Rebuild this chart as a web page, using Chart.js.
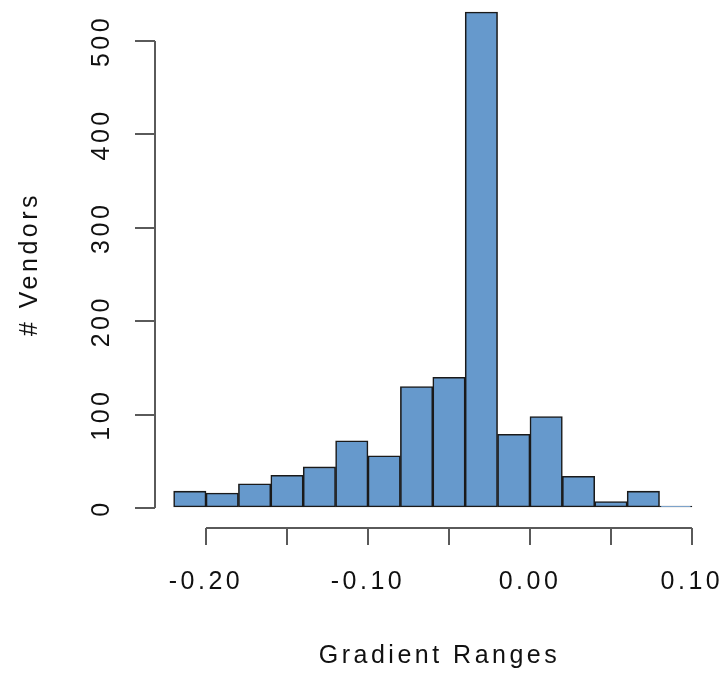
<!DOCTYPE html>
<html>
<head>
<meta charset="utf-8">
<script src="https://cdn.jsdelivr.net/npm/chart.js@4.4.1/dist/chart.umd.min.js"></script>
<style>
  html, body { margin: 0; padding: 0; background: #fff; }
  #wrap { position: relative; width: 724px; height: 674px; }
</style>
</head>
<body>
<div id="wrap"><canvas id="histChart"></canvas></div>
<script>
// histogram bins (centres of 0.02 wide bins) and counts
const binCenters = [-0.21, -0.19, -0.17, -0.15, -0.13, -0.11, -0.09, -0.07,
                    -0.05, -0.03, -0.01, 0.01, 0.03, 0.05, 0.07, 0.09];
const vendorCounts = [18, 16, 26, 35, 44, 72, 56, 130,
                      140, 531, 79, 98, 34, 7, 18, 2];
const xTicks = [-0.20, -0.15, -0.10, -0.05, 0.00, 0.05, 0.10];
const xTickLabels = ['-0.20', '', '-0.10', '', '0.00', '', '0.10'];
const yTicks = [0, 100, 200, 300, 400, 500];

const axisColor = '#5a5a5a';
const textColor = '#111';
const fontFamily = '"Liberation Sans", Arial, Helvetica, sans-serif';

// R style text is spaced out a bit
const spacingPlugin = {
    id: 'spacing',
    beforeLayout(chart) { chart.ctx.letterSpacing = '3.5px'; },
    beforeDraw(chart) { chart.ctx.letterSpacing = '3.5px'; }
};

// axis lines only span first..last tick, like base R
const axisLinePlugin = {
    id: 'axisLines',
    afterDraw(chart) {
        const { ctx, chartArea, scales } = chart;
        const x = scales.x, y = scales.y;
        ctx.save();
        ctx.strokeStyle = axisColor;
        ctx.lineWidth = 2;
        ctx.beginPath();
        ctx.moveTo(x.getPixelForValue(xTicks[0]), chartArea.bottom);
        ctx.lineTo(x.getPixelForValue(xTicks[xTicks.length - 1]), chartArea.bottom);
        ctx.moveTo(chartArea.left, y.getPixelForValue(yTicks[0]));
        ctx.lineTo(chartArea.left, y.getPixelForValue(yTicks[yTicks.length - 1]));
        ctx.stroke();
        ctx.restore();
    }
};

const ctx = document.getElementById('histChart').getContext('2d');
const histChart = new Chart(ctx, {
    type: 'bar',
    data: {
        datasets: [{
            label: '# Vendors',
            data: binCenters.map((c, i) => ({ x: c, y: vendorCounts[i] })),
            backgroundColor: '#6699cc',
            borderColor: '#1a1a1a',
            borderWidth: 1.6,
            borderSkipped: false,
            barPercentage: 1,
            categoryPercentage: 1
        }]
    },
    options: {
        responsive: true,
        maintainAspectRatio: false,
        animation: false,
        layout: { padding: 0 },
        plugins: {
            legend: { display: false },
            tooltip: { enabled: false }
        },
        scales: {
            x: {
                type: 'linear',
                offset: false,
                min: -0.2315,
                max: 0.1198,
                afterBuildTicks: scale => { scale.ticks = xTicks.map(v => ({ value: v })); },
                afterFit: scale => {
                    scale.height = 146;
                    scale.paddingLeft = 0;
                    scale.paddingRight = 0;
                },
                grid: {
                    display: true,
                    offset: false,
                    drawOnChartArea: false,
                    drawTicks: true,
                    tickLength: 17,
                    color: axisColor,
                    lineWidth: 2
                },
                border: { display: false },
                ticks: {
                    autoSkip: false,
                    maxRotation: 0,
                    padding: 22,
                    color: textColor,
                    font: { family: fontFamily, size: 25 },
                    callback: (value, index) => xTickLabels[index]
                },
                title: {
                    display: true,
                    text: 'Gradient Ranges',
                    color: textColor,
                    font: { family: fontFamily, size: 25 },
                    padding: { top: 0, bottom: 3 }
                }
            },
            y: {
                min: -21.4,
                max: 543.9,
                afterBuildTicks: scale => { scale.ticks = yTicks.map(v => ({ value: v })); },
                afterFit: scale => {
                    scale.width = 155;
                    scale.paddingTop = 0;
                    scale.paddingBottom = 0;
                },
                grid: {
                    display: true,
                    drawOnChartArea: false,
                    drawTicks: true,
                    tickLength: 20,
                    color: axisColor,
                    lineWidth: 2
                },
                border: { display: false },
                ticks: {
                    minRotation: 90,
                    maxRotation: 90,
                    crossAlign: 'center',
                    padding: 7,
                    color: textColor,
                    font: { family: fontFamily, size: 25 }
                },
                title: {
                    display: true,
                    text: '# Vendors',
                    color: textColor,
                    font: { family: fontFamily, size: 25 },
                    padding: { top: 15, bottom: 0 }
                }
            }
        }
    },
    plugins: [spacingPlugin, axisLinePlugin]
});
</script>
</body>
</html>
